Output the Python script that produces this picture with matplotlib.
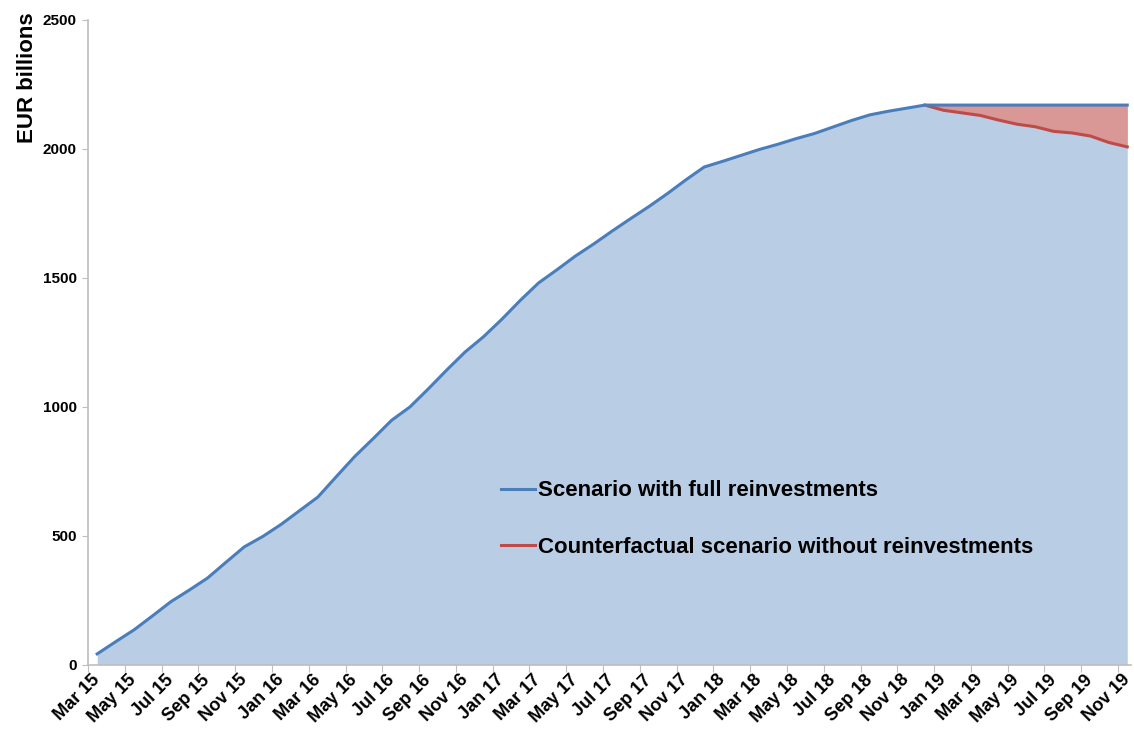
import numpy as np
import matplotlib
matplotlib.use("Agg")
import matplotlib.pyplot as plt

plt.rcParams['font.family'] = ['Liberation Sans', 'DejaVu Sans']
plt.rcParams['font.weight'] = 'bold'

# ── Data (EUR billions, monthly Mar 2015 – Nov 2019) ─────────────────────────
months = ["Mar 15", "Apr 15", "May 15", "Jun 15", "Jul 15", "Aug 15", "Sep 15",
          "Oct 15", "Nov 15", "Dec 15", "Jan 16", "Feb 16", "Mar 16", "Apr 16",
          "May 16", "Jun 16", "Jul 16", "Aug 16", "Sep 16", "Oct 16", "Nov 16",
          "Dec 16", "Jan 17", "Feb 17", "Mar 17", "Apr 17", "May 17", "Jun 17",
          "Jul 17", "Aug 17", "Sep 17", "Oct 17", "Nov 17", "Dec 17", "Jan 18",
          "Feb 18", "Mar 18", "Apr 18", "May 18", "Jun 18", "Jul 18", "Aug 18",
          "Sep 18", "Oct 18", "Nov 18", "Dec 18", "Jan 19", "Feb 19", "Mar 19",
          "Apr 19", "May 19", "Jun 19", "Jul 19", "Aug 19", "Sep 19", "Oct 19",
          "Nov 19"]

full_reinvest = [43, 90, 136, 190, 245, 290, 337, 398, 458, 498, 545, 598,
                 651, 730, 808, 877, 948, 1000, 1070, 1143, 1213, 1272, 1340,
                 1413, 1481, 1532, 1585, 1632, 1682, 1730, 1777, 1827, 1880,
                 1930, 1952, 1975, 1998, 2018, 2040, 2060, 2085, 2110, 2132,
                 2146, 2158, 2170, 2170, 2170, 2170, 2170, 2170, 2170, 2170,
                 2170, 2170, 2170, 2170]

# counterfactual only defined from Dec 18 on
cf_start = 45
no_reinvest = [2170, 2150, 2140, 2130, 2112, 2096, 2086, 2068, 2062, 2050,
               2025, 2008]

BLUE_FILL = "#B9CDE5"
BLUE_LINE = "#4A7EBB"
RED_FILL = "#D99796"
RED_LINE = "#BE4B48"
GREY = "#BFBFBF"

x = np.arange(len(months))
x_cf = x[cf_start:cf_start + len(no_reinvest)]
full = np.array(full_reinvest, dtype=float)
cf = np.array(no_reinvest, dtype=float)

fig = plt.figure(figsize=(11.34, 7.33), dpi=100)
ax = fig.add_axes([0.0776, 0.0928, 0.9197, 0.88])

ax.fill_between(x, 0, full, color=BLUE_FILL, linewidth=0, zorder=1)
ax.fill_between(x_cf, cf, full[cf_start:], color=RED_FILL, linewidth=0, zorder=2)
ax.plot(x_cf, cf, color=RED_LINE, linewidth=2.2, zorder=3,
        label="Counterfactual scenario without reinvestments")
ax.plot(x, full, color=BLUE_LINE, linewidth=2.2, zorder=4,
        label="Scenario with full reinvestments")

ax.set_xlim(-0.5, 56.2)
ax.set_ylim(0, 2500)

# y axis
ax.set_yticks(np.arange(0, 2501, 500))
ax.tick_params(axis="y", labelsize=11, length=4, color=GREY, pad=4)
ax.text(-0.058, 1.012, "EUR billions", transform=ax.transAxes, rotation=90,
        ha="center", va="top", fontsize=16, fontweight="bold")

# x axis: tick marks at category boundaries, labels on every 2nd category
ax.set_xticks(np.arange(-0.5, 56.0, 2))
ax.set_xticklabels([])
ax.set_xticks(x[::2], minor=True)
ax.set_xticklabels(months[::2], minor=True, rotation=45, ha="right",
                   va="center", rotation_mode="anchor", fontsize=13)
ax.tick_params(axis="x", which="major", length=5, color=GREY)
ax.tick_params(axis="x", which="minor", length=0, pad=9)

for side in ["top", "right"]:
    ax.spines[side].set_visible(False)
for side in ["left", "bottom"]:
    ax.spines[side].set_color(GREY)
    ax.spines[side].set_linewidth(1.2)

handles, labels = ax.get_legend_handles_labels()
leg = ax.legend(handles[::-1], labels[::-1], loc="center left",
                bbox_to_anchor=(0.396, 0.226), frameon=False,
                fontsize=16, handlelength=1.55, handletextpad=0.1,
                labelspacing=1.6, borderpad=0, borderaxespad=0)

fig.savefig("out.png", dpi=100)
